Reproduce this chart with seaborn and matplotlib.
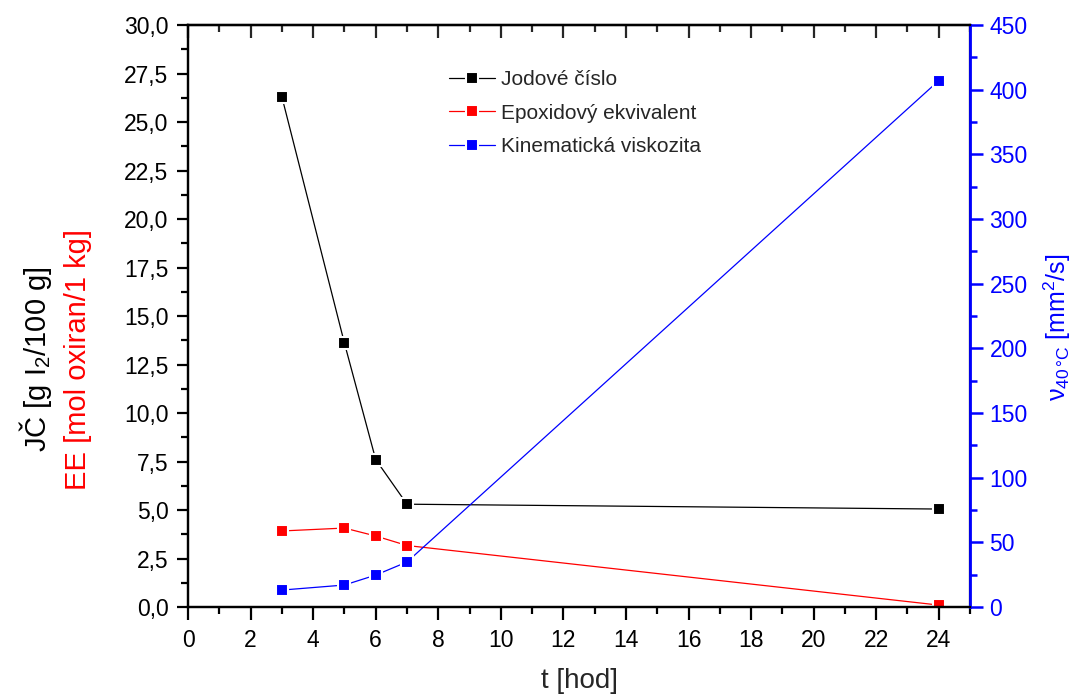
import matplotlib
matplotlib.use("Agg")
import matplotlib.pyplot as plt
import seaborn as sns
import pandas as pd
from matplotlib.ticker import MultipleLocator, FuncFormatter

t_hod = [3, 5, 6, 7, 24]
jodove_cislo = [26.3, 13.6, 7.6, 5.3, 5.05]
epoxidovy_ekv = [3.92, 4.07, 3.66, 3.17, 0.1]
kin_viskozita = [13.1, 17.0, 24.7, 34.8, 407.0]

sns.set_theme(style="white")
plt.rcParams['font.family'] = ['Liberation Sans', 'DejaVu Sans']
plt.rcParams['mathtext.fontset'] = 'custom'
plt.rcParams['mathtext.rm'] = 'Liberation Sans'
plt.rcParams['mathtext.it'] = 'Liberation Sans'

df = pd.DataFrame({"t": t_hod, "JC": jodove_cislo, "EE": epoxidovy_ekv, "V": kin_viskozita})

fig = plt.figure(figsize=(10.82, 6.99), dpi=100)
ax = fig.add_axes([0.1738, 0.1316, 0.8965 - 0.1738, 0.9642 - 0.1316])
ax2 = ax.twinx()

mk = dict(marker="s", markersize=9, markeredgecolor="white", markeredgewidth=1.5, linewidth=0.9)
sns.lineplot(data=df, x="t", y="JC", ax=ax, color="black", label="Jodové číslo", **mk)
sns.lineplot(data=df, x="t", y="EE", ax=ax, color="red", label="Epoxidový ekvivalent", **mk)
sns.lineplot(data=df, x="t", y="V", ax=ax2, color="blue", label="Kinematická viskozita", **mk)

ax.set_xlim(0, 25)
ax.set_ylim(0, 30)
ax2.set_ylim(0, 450)

comma = FuncFormatter(lambda v, p: f"{v:.1f}".replace(".", ","))
ax.yaxis.set_major_locator(MultipleLocator(2.5))
ax.yaxis.set_minor_locator(MultipleLocator(1.25))
ax.yaxis.set_major_formatter(comma)
ax.xaxis.set_major_locator(MultipleLocator(2))
ax.xaxis.set_minor_locator(MultipleLocator(1))
ax2.yaxis.set_major_locator(MultipleLocator(50))
ax2.yaxis.set_minor_locator(MultipleLocator(25))

for a in (ax, ax2):
    for s in a.spines.values():
        s.set_linewidth(1.6)
        s.set_color("black")
ax2.spines["right"].set_color("blue")
ax2.spines["right"].set_linewidth(2.0)

TS = 16.5
ax.tick_params(axis="x", which="both", direction="out", bottom=True, top=False, labelsize=TS, colors="black", pad=7)
ax.tick_params(axis="x", which="major", length=9, width=1.6)
ax.tick_params(axis="x", which="minor", length=5, width=1.6)
ax.tick_params(axis="y", which="both", direction="out", left=True, labelsize=TS, colors="black", pad=6)
ax.tick_params(axis="y", which="major", length=8, width=1.6)
ax.tick_params(axis="y", which="minor", length=5, width=1.6)
secx = ax.secondary_xaxis("top")
secx.xaxis.set_major_locator(MultipleLocator(2))
secx.xaxis.set_minor_locator(MultipleLocator(1))
secx.tick_params(axis="x", which="both", direction="in", labeltop=False, width=1.6)
secx.tick_params(axis="x", which="major", length=9)
secx.tick_params(axis="x", which="minor", length=5)
secx.spines["top"].set_linewidth(1.6)

ax2.tick_params(axis="y", which="both", direction="out", right=True, labelsize=TS, colors="blue", width=1.8, pad=5)
ax2.tick_params(axis="y", which="major", length=9)
ax2.tick_params(axis="y", which="minor", length=5)

ax.set_xlabel("t [hod]", fontsize=20, labelpad=11)
ax.set_ylabel("")
ax2.set_ylabel("")
fig.text(0.977, 0.532, r"$\nu_{40\,°C}$ [mm$^2$/s]", rotation=90, fontsize=18, color="blue", ha="center", va="center")

fig.text(0.033, 0.486, r"JČ [g I$_2$/100 g]", rotation=90, fontsize=21, color="black", ha="center", va="center")
fig.text(0.072, 0.486, "EE [mol oxiran/1 kg]", rotation=90, fontsize=21, color="red", ha="center", va="center")

h1, l1 = ax.get_legend_handles_labels()
h2, l2 = ax2.get_legend_handles_labels()
if ax2.get_legend():
    ax2.get_legend().remove()
ax.legend(h1 + h2, l1 + l2, loc="upper left", bbox_to_anchor=(0.31, 0.955), frameon=False,
          fontsize=15, handlelength=2.2, handletextpad=0.3, labelspacing=0.7)

fig.savefig("out.png", dpi=100)
